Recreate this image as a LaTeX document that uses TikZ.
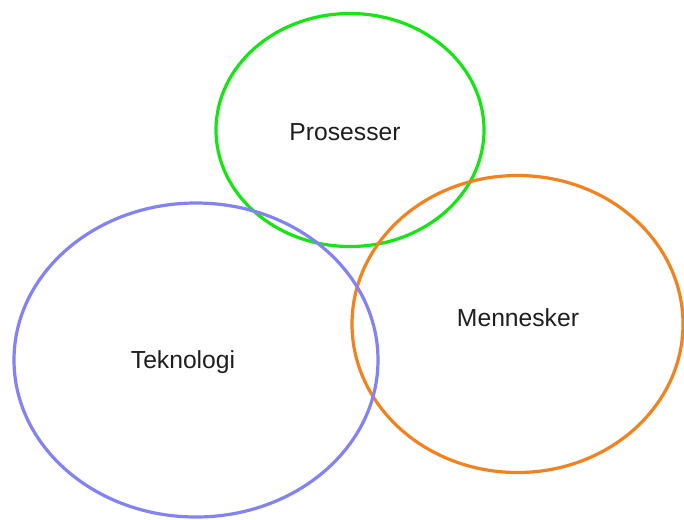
\documentclass[tikz,border=0pt]{standalone}
\usepackage{fontspec}
\setmainfont{Liberation Sans}
\definecolor{cgreen}{RGB}{20,230,20}
\definecolor{cblue}{RGB}{130,130,245}
\definecolor{corange}{RGB}{242,130,30}
\definecolor{ctext}{RGB}{30,30,30}
\begin{document}
\begin{tikzpicture}[x=0.75pt,y=-0.75pt,
  ring/.style={line width=2.4pt},
  lbl/.style={anchor=base,inner sep=0pt,text=ctext,font=\fontsize{18.5pt}{22pt}\selectfont}]
\useasboundingbox (0,0) rectangle (684,519);
\draw[ring,cgreen] (350,130) ellipse [x radius=134, y radius=116.5];
\draw[ring,corange] (517.5,324) ellipse [x radius=165.5, y radius=148.5];
\draw[ring,cblue] (196,360) ellipse [x radius=182, y radius=157];
\node[lbl] (pros) at (345,140) {Prosesser};
\node[lbl] (tek) at (183,368) {Teknologi};
\node[lbl] (men) at (518,326) {Mennesker};
\end{tikzpicture}
\end{document}
